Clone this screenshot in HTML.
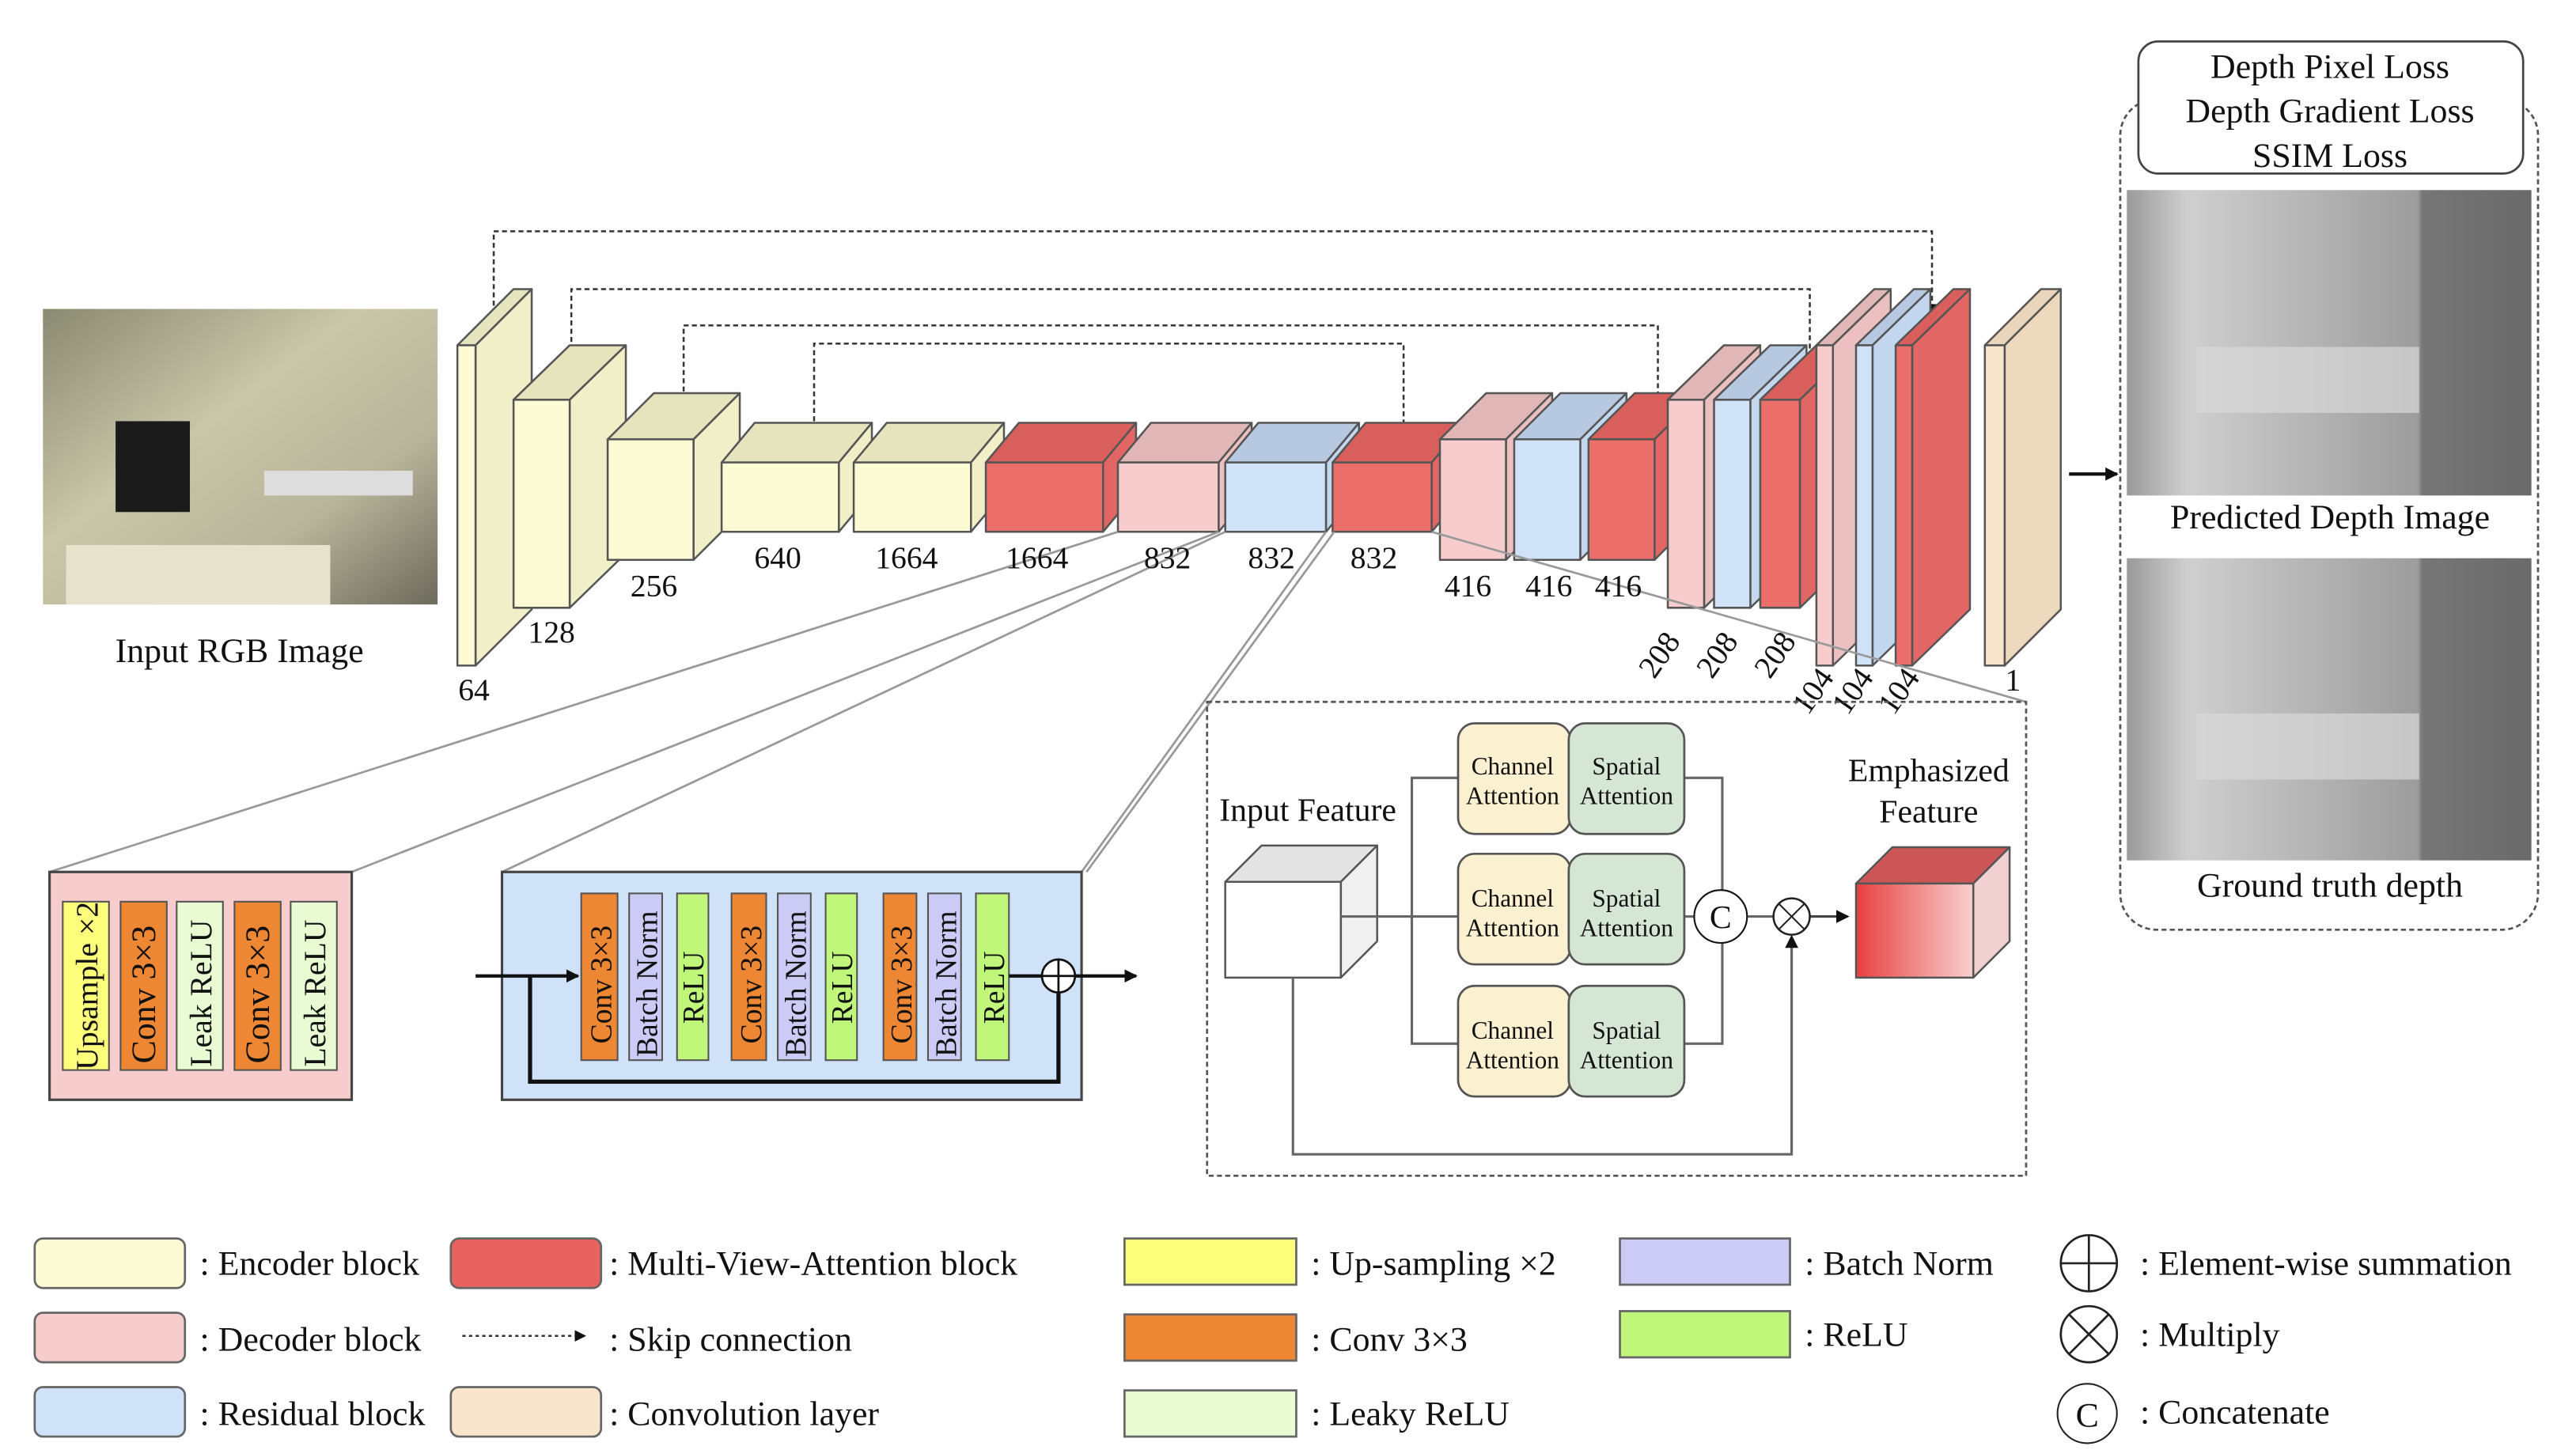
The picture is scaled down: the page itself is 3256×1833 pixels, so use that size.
<!DOCTYPE html>
<html><head><meta charset="utf-8"><style>
html,body{margin:0;padding:0;background:#fff;}
svg{display:block;}
text{font-family:"Liberation Serif",serif;fill:#111;}
</style></head><body>
<svg id="s" width="3256" height="1833" viewBox="0 0 1560 878" xmlns="http://www.w3.org/2000/svg">
<defs>
<linearGradient id="kit" x1="0" y1="0" x2="1" y2="1"><stop offset="0" stop-color="#8a8a72"/><stop offset="0.4" stop-color="#c9c6a8"/><stop offset="0.7" stop-color="#b8b49a"/><stop offset="1" stop-color="#6c6a5c"/></linearGradient>
<linearGradient id="dep" x1="0" y1="0" x2="1" y2="0"><stop offset="0" stop-color="#9a9a9a"/><stop offset="0.15" stop-color="#cfcfcf"/><stop offset="0.5" stop-color="#b0b0b0"/><stop offset="0.72" stop-color="#9c9c9c"/><stop offset="0.73" stop-color="#767676"/><stop offset="1" stop-color="#6a6a6a"/></linearGradient>
<linearGradient id="emp" x1="0" y1="0" x2="1" y2="0"><stop offset="0" stop-color="#e84040"/><stop offset="1" stop-color="#f9d0d0"/></linearGradient>
<marker id="ah" markerWidth="8" markerHeight="8" refX="7" refY="4" orient="auto" markerUnits="userSpaceOnUse"><path d="M0,0 L8,4 L0,8 z" fill="#111"/></marker>
<marker id="ahs" markerWidth="7" markerHeight="7" refX="6" refY="3.5" orient="auto" markerUnits="userSpaceOnUse"><path d="M0,0 L7,3.5 L0,7 z" fill="#111"/></marker>
</defs>

<!-- input image -->
<rect x="26" y="187" width="239" height="179" fill="url(#kit)"/>
<rect x="70" y="255" width="45" height="55" fill="#1a1a1a"/>
<rect x="160" y="285" width="90" height="15" fill="#ddd"/>
<rect x="40" y="330" width="160" height="36" fill="#e6e2cc"/>
<text x="145" y="401" font-size="21" text-anchor="middle">Input RGB Image</text>

<!-- skip connections -->
<g fill="none" stroke="#333" stroke-width="1.2" stroke-dasharray="3,2">
<path d="M299,195 V140 H1170 V190" marker-end="url(#ahs)"/>
<path d="M346,232 V175 H1096 V228" marker-end="url(#ahs)"/>
<path d="M414,262 V197 H1004 V260" marker-end="url(#ahs)"/>
<path d="M493,290 V208 H850 V266" marker-end="url(#ahs)"/>
</g>

<g id="cubes"></g>

<!-- projection lines -->
<g stroke="#999" stroke-width="1.3" fill="none">
<line x1="677" y1="322" x2="30" y2="528"/>
<line x1="738" y1="322" x2="213" y2="528"/>
<line x1="742" y1="322" x2="304" y2="528"/>
<line x1="803" y1="322" x2="655" y2="528"/>
<line x1="808" y1="322" x2="658" y2="528"/>
<line x1="867" y1="322" x2="1227" y2="425"/>
</g>

<!-- labels -->
<g font-size="19" text-anchor="middle">
<text x="287" y="424">64</text><text x="334" y="389">128</text><text x="396" y="361">256</text>
<text x="471" y="344">640</text><text x="549" y="344">1664</text><text x="628" y="344">1664</text>
<text x="707" y="344">832</text><text x="770" y="344">832</text><text x="832" y="344">832</text>
<text x="889" y="361">416</text><text x="938" y="361">416</text><text x="980" y="361">416</text>
<text transform="translate(1010,400) rotate(-55)">208</text>
<text transform="translate(1045,400) rotate(-55)">208</text>
<text transform="translate(1080,400) rotate(-55)">208</text>
<text transform="translate(1103,422) rotate(-55)">104</text>
<text transform="translate(1127,422) rotate(-55)">104</text>
<text transform="translate(1155,422) rotate(-55)">104</text>
<text x="1219" y="418">1</text>
</g>

<!-- arrow to output -->
<line x1="1253" y1="287" x2="1282" y2="287" stroke="#111" stroke-width="2" marker-end="url(#ah)"/>

<!-- right panel -->
<rect x="1284" y="60" width="253" height="503" rx="22" fill="none" stroke="#555" stroke-width="1.3" stroke-dasharray="3,2"/>
<rect x="1295" y="25" width="233" height="80" rx="12" fill="#fff" stroke="#444" stroke-width="1.3"/>
<g font-size="21" text-anchor="middle">
<text x="1411" y="47">Depth Pixel Loss</text><text x="1411" y="74">Depth Gradient Loss</text><text x="1411" y="101">SSIM Loss</text>
</g>
<rect x="1288" y="115" width="245" height="185" fill="url(#dep)"/>
<rect x="1330" y="210" width="135" height="40" fill="#d8d8d8" opacity="0.7"/>
<rect x="1288" y="338" width="245" height="183" fill="url(#dep)"/>
<rect x="1330" y="432" width="135" height="40" fill="#d8d8d8" opacity="0.7"/>
<text x="1411" y="320" font-size="21" text-anchor="middle">Predicted Depth Image</text>
<text x="1411" y="543" font-size="21" text-anchor="middle">Ground truth depth</text>

<!-- decoder detail -->
<rect x="30" y="528" width="183" height="138" fill="#f6cccd" stroke="#444" stroke-width="1.5"/>
<g stroke="#555" stroke-width="1">
<rect x="38" y="546" width="28" height="102" fill="#fdfd7c"/>
<rect x="73" y="546" width="28" height="102" fill="#ee8733"/>
<rect x="107" y="546" width="28" height="102" fill="#e8fbd2"/>
<rect x="142" y="546" width="28" height="102" fill="#ee8733"/>
<rect x="176" y="546" width="28" height="102" fill="#e8fbd2"/>
</g>
<g font-size="19">
<text transform="translate(59,648) rotate(-90)">Upsample ×2</text>
<text transform="translate(94,644) rotate(-90)" font-size="21">Conv 3×3</text>
<text transform="translate(128,646) rotate(-90)">Leak ReLU</text>
<text transform="translate(163,644) rotate(-90)" font-size="21">Conv 3×3</text>
<text transform="translate(197,646) rotate(-90)">Leak ReLU</text>
</g>

<!-- residual detail -->
<rect x="304" y="528" width="351" height="138" fill="#cfe2f8" stroke="#444" stroke-width="1.5"/>
<g stroke="#555" stroke-width="1">
<rect x="352" y="541" width="22" height="101" fill="#ee8733"/>
<rect x="381" y="541" width="20" height="101" fill="#cccbf6"/>
<rect x="410" y="541" width="19" height="101" fill="#c0f77a"/>
<rect x="443" y="541" width="21" height="101" fill="#ee8733"/>
<rect x="471" y="541" width="20" height="101" fill="#cccbf6"/>
<rect x="500" y="541" width="19" height="101" fill="#c0f77a"/>
<rect x="535" y="541" width="20" height="101" fill="#ee8733"/>
<rect x="562" y="541" width="20" height="101" fill="#cccbf6"/>
<rect x="591" y="541" width="20" height="101" fill="#c0f77a"/>
</g>
<g font-size="18">
<text transform="translate(370,632) rotate(-90)">Conv 3×3</text>
<text transform="translate(398,640) rotate(-90)">Batch Norm</text>
<text transform="translate(426,620) rotate(-90)">ReLU</text>
<text transform="translate(461,632) rotate(-90)">Conv 3×3</text>
<text transform="translate(488,640) rotate(-90)">Batch Norm</text>
<text transform="translate(516,620) rotate(-90)">ReLU</text>
<text transform="translate(552,632) rotate(-90)">Conv 3×3</text>
<text transform="translate(579,640) rotate(-90)">Batch Norm</text>
<text transform="translate(608,620) rotate(-90)">ReLU</text>
</g>
<line x1="288" y1="591" x2="350" y2="591" stroke="#111" stroke-width="2" marker-end="url(#ah)"/>
<path d="M321,591 V655 H641 V601" fill="none" stroke="#111" stroke-width="2.5"/>
<line x1="611" y1="591" x2="631" y2="591" stroke="#111" stroke-width="2"/>
<circle cx="641" cy="591" r="10" fill="#fff" stroke="#111" stroke-width="1.3"/>
<line x1="631" y1="591" x2="651" y2="591" stroke="#111" stroke-width="1.3"/><line x1="641" y1="581" x2="641" y2="601" stroke="#111" stroke-width="1.3"/>
<line x1="651" y1="591" x2="688" y2="591" stroke="#111" stroke-width="2" marker-end="url(#ah)"/>

<!-- attention detail -->
<rect x="731" y="425" width="496" height="287" fill="none" stroke="#555" stroke-width="1.3" stroke-dasharray="3,2"/>
<text x="792" y="497" font-size="20" text-anchor="middle">Input Feature</text>
<text x="1168" y="473" font-size="20" text-anchor="middle">Emphasized</text>
<text x="1168" y="498" font-size="20" text-anchor="middle">Feature</text>
<g stroke="#666" stroke-width="1.5" fill="none">
<line x1="812" y1="555" x2="883" y2="555"/>
<path d="M883,471 H855 V632 H883"/>
<path d="M1020,471 H1043 V632 H1020"/>
<line x1="1020" y1="555" x2="1026" y2="555"/>
<line x1="1058" y1="555" x2="1074" y2="555"/>
<path d="M783,592 V699 H1085 V568"/>
</g>
<path d="M1085,566 l-4,8 h8 z" fill="#111"/>
<line x1="1096" y1="555" x2="1119" y2="555" stroke="#444" stroke-width="1.5" marker-end="url(#ah)"/>
<g stroke="#555" stroke-width="1.3">
<rect x="883" y="438" width="68" height="67" rx="10" fill="#fbf0d0"/><rect x="950" y="438" width="70" height="67" rx="10" fill="#d6e6d4"/>
<rect x="883" y="517" width="68" height="67" rx="10" fill="#fbf0d0"/><rect x="950" y="517" width="70" height="67" rx="10" fill="#d6e6d4"/>
<rect x="883" y="597" width="68" height="67" rx="10" fill="#fbf0d0"/><rect x="950" y="597" width="70" height="67" rx="10" fill="#d6e6d4"/>
</g>
<g font-size="15" text-anchor="middle">
<text x="916" y="469">Channel</text><text x="916" y="487">Attention</text><text x="985" y="469">Spatial</text><text x="985" y="487">Attention</text>
<text x="916" y="549">Channel</text><text x="916" y="567">Attention</text><text x="985" y="549">Spatial</text><text x="985" y="567">Attention</text>
<text x="916" y="629">Channel</text><text x="916" y="647">Attention</text><text x="985" y="629">Spatial</text><text x="985" y="647">Attention</text>
</g>
<circle cx="1042" cy="555" r="16" fill="#fff" stroke="#111" stroke-width="1"/>
<text x="1042" y="562" font-size="20" text-anchor="middle">C</text>
<circle cx="1085" cy="555" r="11" fill="#fff" stroke="#222" stroke-width="1.2"/>
<line x1="1077" y1="547" x2="1093" y2="563" stroke="#222"/><line x1="1093" y1="547" x2="1077" y2="563" stroke="#222"/>

<!-- legend -->
<g stroke="#666" stroke-width="1.3">
<rect x="21" y="750" width="91" height="30" rx="5" fill="#fdfbd3"/>
<rect x="21" y="795" width="91" height="30" rx="5" fill="#f6cccd"/>
<rect x="21" y="840" width="91" height="30" rx="5" fill="#cfe2f8"/>
<rect x="273" y="750" width="91" height="30" rx="5" fill="#e8625f"/>
<rect x="273" y="840" width="91" height="30" rx="5" fill="#f9e4cc"/>
<rect x="681" y="750" width="104" height="28" fill="#fdfd7c"/>
<rect x="681" y="796" width="104" height="28" fill="#ee8733"/>
<rect x="681" y="842" width="104" height="28" fill="#e8fbd2"/>
<rect x="981" y="750" width="103" height="28" fill="#cccbf6"/>
<rect x="981" y="794" width="103" height="28" fill="#c0f77a"/>
</g>
<line x1="280" y1="809" x2="354" y2="809" stroke="#333" stroke-width="1.2" stroke-dasharray="2,2" marker-end="url(#ahs)"/>
<g font-size="21">
<text x="121" y="772">: Encoder block</text>
<text x="121" y="818">: Decoder block</text>
<text x="121" y="863">: Residual block</text>
<text x="369" y="772">: Multi-View-Attention block</text>
<text x="369" y="818">: Skip connection</text>
<text x="369" y="863">: Convolution layer</text>
<text x="794" y="772">: Up-sampling ×2</text>
<text x="794" y="818">: Conv 3×3</text>
<text x="794" y="863">: Leaky ReLU</text>
<text x="1093" y="772">: Batch Norm</text>
<text x="1093" y="815">: ReLU</text>
<text x="1296" y="772">: Element-wise summation</text>
<text x="1296" y="815">: Multiply</text>
<text x="1296" y="862">: Concatenate</text>
</g>
<g stroke="#222" stroke-width="1.3" fill="none">
<circle cx="1265" cy="765" r="17"/><line x1="1248" y1="765" x2="1282" y2="765"/><line x1="1265" y1="748" x2="1265" y2="782"/>
<circle cx="1265" cy="808" r="17"/><line x1="1253" y1="796" x2="1277" y2="820"/><line x1="1277" y1="796" x2="1253" y2="820"/>
<circle cx="1264" cy="856" r="18" stroke-width="1"/>
</g>
<text x="1264" y="864" font-size="21" text-anchor="middle">C</text>

<script>
(function(){
var g=document.getElementById('cubes');var ns='http://www.w3.org/2000/svg';
function poly(pts,fill){var p=document.createElementNS(ns,'polygon');p.setAttribute('points',pts);p.setAttribute('fill',fill);p.setAttribute('stroke','#555');p.setAttribute('stroke-width','1.2');p.setAttribute('stroke-linejoin','round');g.appendChild(p);}
function cube(x,y,w,h,dx,dy,f,t,s){
 poly([x,y,x+dx,y-dy,x+w+dx,y-dy,x+w,y].join(','),t);
 poly([x+w,y,x+w+dx,y-dy,x+w+dx,y+h-dy,x+w,y+h].join(','),s);
 poly([x,y,x+w,y,x+w,y+h,x,y+h].join(','),f);
}
var E=['#fdfbd3','#e6e4bd','#f1efc8'],R=['#ec6e6a','#d95f5c','#e26663'],P=['#f6cccd','#e0b6b7','#ecc0c1'],B=['#cfe2f8','#b6c9e0','#c2d6ee'],C=['#f9e4cc','#ead6bb','#ecd8bd'];
function c(x,y,w,h,dx,dy,col){cube(x,y,w,h,dx,dy,col[0],col[1],col[2]);}
c(277,209,11,194,34,34,E);
c(311,242,34,126,34,33,E);
c(368,266,52,73,28,28,E);
c(437,280,71,42,20,24,E);
c(517,280,71,42,20,24,E);
c(597,280,71,42,20,24,R);
c(677,280,61,42,20,24,P);
c(742,280,61,42,20,24,B);
c(807,280,60,42,20,24,R);
c(872,266,40,73,28,28,P);
c(917,266,40,73,28,28,B);
c(962,266,40,73,28,28,R);
c(1010,242,22,126,34,33,P);
c(1038,242,22,126,34,33,B);
c(1066,242,24,126,34,33,R);
c(1100,209,10,194,35,34,P);
c(1124,209,10,194,35,34,B);
c(1148,209,10,194,35,34,R);
c(1202,209,12,194,34,34,C);
c(742,534,70,58,22,22,['#ffffff','#e4e4e4','#f0f0f0']);
c(1124,535,71,57,22,22,['url(#emp)','#cc5555','#f0d0d0']);
})();
</script>
</svg>
</body></html>
